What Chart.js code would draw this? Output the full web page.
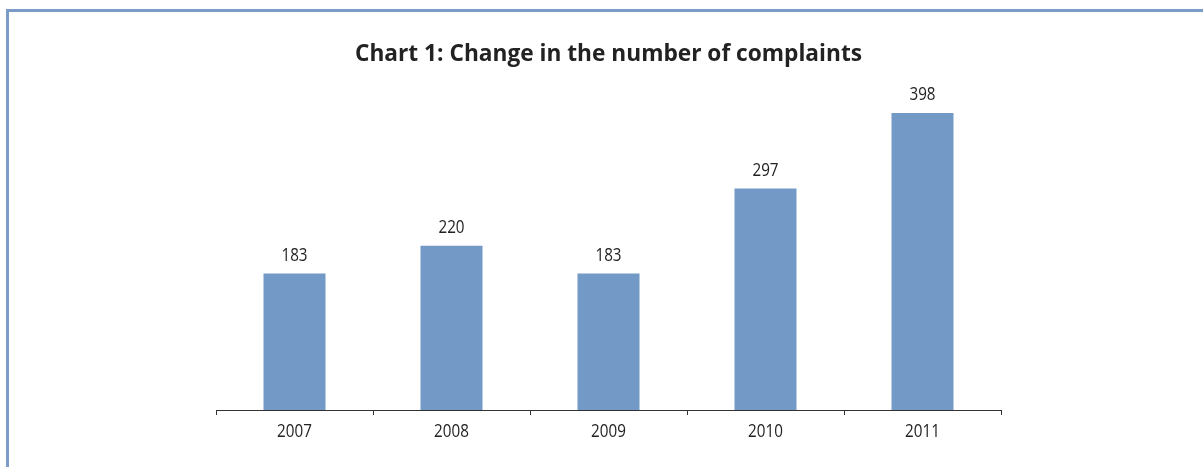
<!DOCTYPE html>
<html>
<head>
<meta charset="utf-8">
<script src="https://cdn.jsdelivr.net/npm/chart.js@4"></script>
<style>
  html, body { margin: 0; padding: 0; background: #fff; overflow: hidden; }
  #frame {
    position: absolute; left: 6px; top: 9px; width: 1300px; height: 600px;
    border-top: 3px solid #7a9cc7; border-left: 3px solid #7a9cc7;
    box-sizing: border-box;
  }
  #wrap { position: absolute; left: 0; top: 0; width: 1203px; height: 467px; }
</style>
</head>
<body>
<div id="frame"></div>
<div id="wrap"><canvas id="myChart" width="1203" height="467"></canvas></div>
<script>
const years = ['2007', '2008', '2009', '2010', '2011'];
const complaints = [183, 220, 183, 297, 398];

// police étroite simulée: Open Sans compressée horizontalement
function narrowText(ctx, text, x, y) {
    ctx.save();
    ctx.translate(x, y);
    ctx.scale(0.8, 1);
    ctx.fillText(text, 0, 0);
    ctx.restore();
}

const narrowLabels = {
    id: 'narrowLabels',
    afterDatasetsDraw(chart) {
        const ctx = chart.ctx;
        const meta = chart.getDatasetMeta(0);
        const xScale = chart.scales.x;
        ctx.save();
        ctx.font = '19px "Open Sans", sans-serif';
        ctx.fillStyle = '#222';
        ctx.textAlign = 'center';
        ctx.textBaseline = 'middle';
        meta.data.forEach((bar, i) => {
            // valeur au-dessus de la barre
            narrowText(ctx, String(complaints[i]), bar.x, bar.y - 18);
            // année sous l'axe
            narrowText(ctx, years[i], xScale.getPixelForValue(i), xScale.top + 22);
        });
        ctx.restore();
    }
};

const ctx = document.getElementById('myChart').getContext('2d');
const myChart = new Chart(ctx, {
    type: 'bar',
    data: {
        labels: years,
        datasets: [{
            data: complaints,
            backgroundColor: '#7399c6',
            borderWidth: 0,
            barPercentage: 0.395,
            categoryPercentage: 1
        }]
    },
    options: {
        responsive: false,
        animation: false,
        layout: { padding: { left: 216, right: 202, top: 0, bottom: 0 } },
        plugins: {
            legend: { display: false },
            tooltip: { enabled: false },
            title: {
                display: true,
                text: 'Chart 1: Change in the number of complaints',
                color: '#222',
                font: { family: '"Open Sans", sans-serif', size: 22.7, weight: 'bold' },
                padding: { top: 41, bottom: 6 }
            }
        },
        scales: {
            y: { display: false, min: 0, max: 450 },
            x: {
                afterFit(scale) { scale.height = 57; },
                grid: {
                    drawOnChartArea: false,
                    drawTicks: true,
                    tickLength: 5,
                    color: '#333',
                    offset: true
                },
                border: { display: true, color: '#333', width: 1 },
                ticks: { display: false }
            }
        }
    },
    plugins: [narrowLabels]
});
</script>
</body>
</html>
